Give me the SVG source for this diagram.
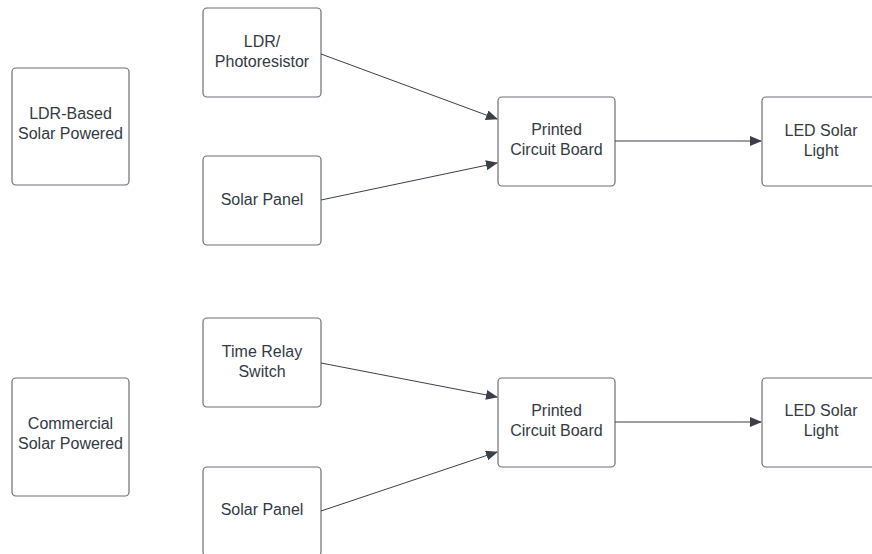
<svg xmlns="http://www.w3.org/2000/svg" width="872" height="554" viewBox="0 0 872 554">
<defs>
<marker id="ah" markerWidth="12" markerHeight="10" refX="11" refY="5" orient="auto" markerUnits="userSpaceOnUse">
<path d="M0,0 L12,5 L0,10 Z" fill="#3a3f4a"/>
</marker>
<style>
.box{fill:#fff;stroke:#6b6e75;stroke-width:1.2}
.t{font-family:"Liberation Sans",Arial,sans-serif;font-size:16px;fill:#333a44;text-anchor:middle}
.c{stroke:#3a3f4a;stroke-width:1;fill:none;marker-end:url(#ah)}
</style>
</defs>
<rect width="872" height="554" fill="#fff"/>
<g id="ldr-based"><rect class="box" x="12" y="68" width="117" height="117" rx="4"/><text class="t" x="70.5" y="119">LDR-Based</text><text class="t" x="70.5" y="139">Solar Powered</text></g>
<g id="ldr"><rect class="box" x="203" y="8" width="118" height="89" rx="4"/><text class="t" x="262" y="47">LDR/</text><text class="t" x="262" y="67">Photoresistor</text></g>
<g id="solar1"><rect class="box" x="203" y="156" width="118" height="89" rx="4"/><text class="t" x="262" y="205">Solar Panel</text></g>
<g id="pcb1"><rect class="box" x="498" y="97" width="117" height="89" rx="4"/><text class="t" x="556.5" y="135">Printed</text><text class="t" x="556.5" y="155">Circuit Board</text></g>
<g id="led1"><rect class="box" x="762" y="97" width="118" height="89" rx="4"/><text class="t" x="821" y="136">LED Solar</text><text class="t" x="821" y="156">Light</text></g>
<g id="commercial"><rect class="box" x="12" y="378" width="117" height="118" rx="4"/><text class="t" x="70.5" y="429">Commercial</text><text class="t" x="70.5" y="449">Solar Powered</text></g>
<g id="relay"><rect class="box" x="203" y="318" width="118" height="89" rx="4"/><text class="t" x="262" y="357">Time Relay</text><text class="t" x="262" y="377">Switch</text></g>
<g id="solar2"><rect class="box" x="203" y="467" width="118" height="89" rx="4"/><text class="t" x="262" y="515">Solar Panel</text></g>
<g id="pcb2"><rect class="box" x="498" y="378" width="117" height="89" rx="4"/><text class="t" x="556.5" y="416">Printed</text><text class="t" x="556.5" y="436">Circuit Board</text></g>
<g id="led2"><rect class="box" x="762" y="378" width="118" height="89" rx="4"/><text class="t" x="821" y="416">LED Solar</text><text class="t" x="821" y="436">Light</text></g>
<g id="connectors">
<line class="c" x1="321" y1="54" x2="497" y2="119"/>
<line class="c" x1="321" y1="200" x2="497" y2="163"/>
<line class="c" x1="615" y1="141" x2="761" y2="141"/>
<line class="c" x1="321" y1="363" x2="497" y2="397"/>
<line class="c" x1="321" y1="511" x2="497" y2="452"/>
<line class="c" x1="615" y1="422" x2="761" y2="422"/>
</g>
</svg>
